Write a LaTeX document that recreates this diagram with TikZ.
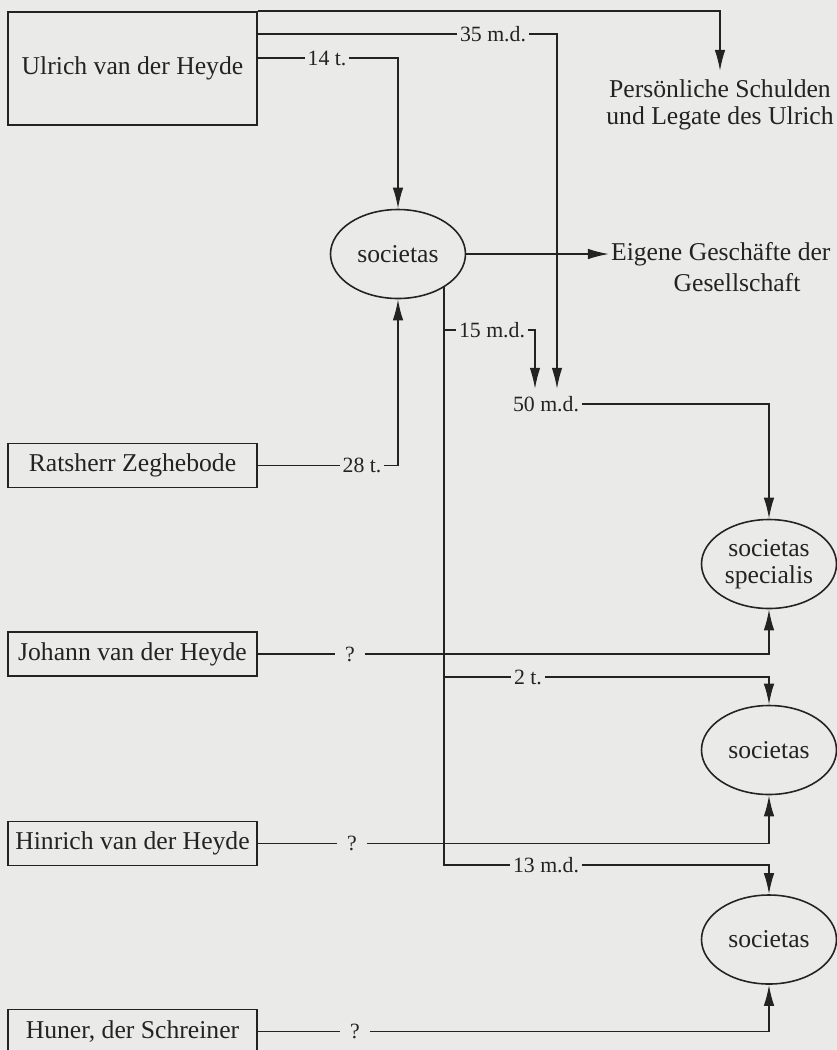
\documentclass[tikz,border=0pt]{standalone}
\usepackage{fontspec}
\setmainfont{Liberation Serif}
\usepackage{tikz}
\usetikzlibrary{arrows.meta, positioning, calc, shapes.geometric}
\definecolor{paper}{RGB}{234,234,232}
\definecolor{ink}{RGB}{35,35,35}
\newcommand{\namefont}{\fontsize{14.6}{15.3}\selectfont}
\newcommand{\sumfont}{\fontsize{12.4}{13}\selectfont}

\begin{document}
\begin{tikzpicture}[
    text=ink,
    person/.style={rectangle, draw=ink, line width=0.9pt, minimum width=4.98cm, minimum height=0.88cm, font=\namefont},
    soc/.style={ellipse, draw=ink, line width=0.9pt, minimum width=2.7cm, minimum height=1.78cm, inner sep=0pt, align=center, font=\namefont},
    goal/.style={inner sep=1pt, align=center, font=\namefont},
    amount/.style={inner xsep=1.5pt, inner ysep=0pt, font=\sumfont},
    query/.style={amount, inner xsep=0.19cm},
    flow/.style={draw=ink, line width=0.9pt},
    arrow/.style={flow, -{Latex[length=12pt, width=6pt]}}
]
    \fill[paper] (0,0) rectangle (16.74,-21);
    \useasboundingbox (0,0) rectangle (16.74,-21);

    \node[person, minimum height=2.26cm] (ulrich) at (2.65,-1.37) {Ulrich van der Heyde};
    \node[person] (ratsherr) at (2.65,-9.31) {Ratsherr Zeghebode};
    \node[person] (johann) at (2.65,-13.08) {Johann van der Heyde};
    \node[person] (hinrich) at (2.65,-16.87) {Hinrich van der Heyde};
    \node[person] (huner) at (2.65,-20.63) {Huner, der Schreiner};

    \node[soc] (soc1) at (7.96,-5.08) {societas};
    \node[soc] (spec) at (15.38,-11.28) {societas\\specialis};
    \node[soc] (soc3) at (15.38,-15.0) {societas};
    \node[soc] (soc4) at (15.38,-18.79) {societas};

    \node[goal, anchor=north, inner ysep=5pt] (schulden) at (14.4,-1.42) {Persönliche Schulden\\und Legate des Ulrich};
    \node[goal, anchor=west] (eigene) at (12.18,-5.08) {Eigene Geschäfte der};
    \node[goal] (gesell) at (14.74,-5.66) {Gesellschaft};

    \node[amount] (md35) at (9.86,-0.68) {35 m.d.};
    \node[amount] (t14) at (6.54,-1.16) {14 t.};
    \node[amount] (t28) at (7.24,-9.31) {28 t.};
    \node[amount] (md15) at (9.84,-6.6) {15 m.d.};
    \node[amount, inner ysep=4pt] (md50) at (10.92,-8.08) {50 m.d.};
    \node[amount] (t2) at (10.56,-13.54) {2 t.};
    \node[amount] (md13) at (10.92,-17.3) {13 m.d.};
    \node[query] (qj) at (7.0,-13.08) {?};
    \node[query] (qh) at (7.04,-16.87) {?};
    \node[query] (qu) at (7.1,-20.63) {?};

    \draw[arrow] (ulrich.north east) -| (schulden.north);
    \draw[flow] (ulrich.east |- md35) -- (md35.west);
    \draw[arrow] (md35.east) -| ([xshift=0.22cm]md50.north);
    \draw[flow] (ulrich.east |- t14) -- (t14.west);
    \draw[arrow] (t14.east) -| (soc1.north);

    \draw[flow] (ratsherr.east) -- (t28.west);
    \draw[arrow] (t28.east) -| (soc1.south);

    \draw[arrow] (soc1.east) -- (eigene.west);
    \draw[flow] (soc1.-36) |- (md13.west);
    \draw[arrow] (md13.east) -| (soc4.north);
    \draw[flow] (soc1.-36 |- md15) -- (md15.west);
    \draw[arrow] (md15.east) -| ([xshift=-0.22cm]md50.north);
    \draw[flow] (soc1.-36 |- t2) -- (t2.west);
    \draw[arrow] (t2.east) -| (soc3.north);
    \draw[arrow] (md50.east) -| (spec.north);

    \draw[flow] (johann.east) -- (qj.west);
    \draw[arrow] (qj.east) -| (spec.south);
    \draw[flow] (hinrich.east) -- (qh.west);
    \draw[arrow] (qh.east) -| (soc3.south);
    \draw[flow] (huner.east) -- (qu.west);
    \draw[arrow] (qu.east) -| (soc4.south);
\end{tikzpicture}
\end{document}
